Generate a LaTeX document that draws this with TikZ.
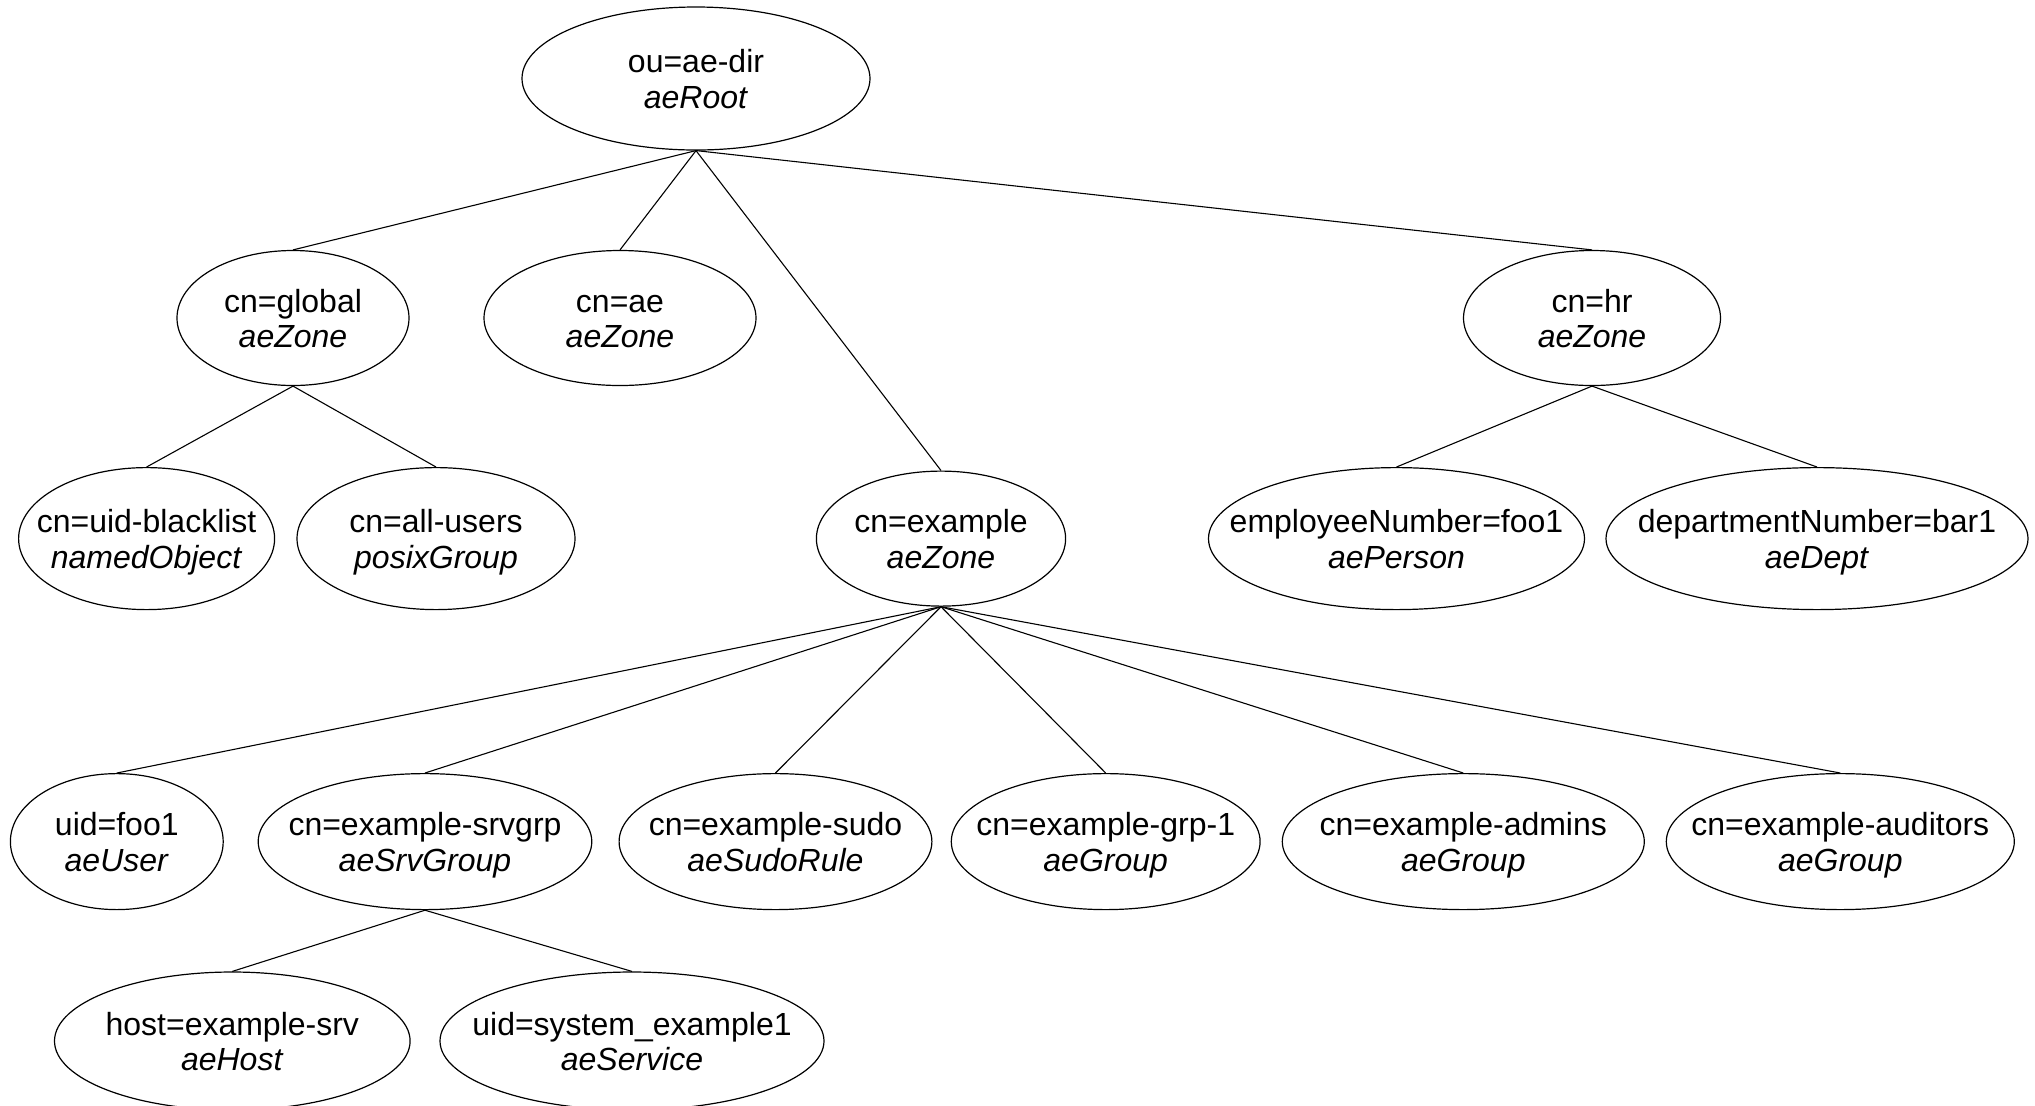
\documentclass[tikz,border=0pt]{standalone}
\usepackage{fontspec}
\setmainfont{Liberation Sans}
\usetikzlibrary{shapes.geometric}
\newcommand\entity[7]{%
  \node[entbox, minimum width=#4pt, minimum height=#5pt] (#1) at (#2,#3) {};
  \node[lbl] (#1-t) at (#1.center) {\strut#6\\\strut\textit{#7}};}
\begin{document}
\begin{tikzpicture}[x=0.5pt,y=-0.5pt,
  entbox/.style={draw, ellipse, inner sep=0pt, line width=0.6pt},
  lbl/.style={font=\fontsize{16}{17.75}\selectfont, align=center, inner sep=0pt, yshift=-2.5pt},
  edge/.style={line width=0.55pt}]
\useasboundingbox (0,0) rectangle (2035,1105);
\entity{root}{696}{78.5}{174}{71.5}{ou=ae-dir}{aeRoot}
\entity{global}{293}{318}{116}{67.5}{cn=global}{aeZone}
\entity{ae}{620}{318}{136}{67.5}{cn=ae}{aeZone}
\entity{hr}{1592}{318}{128.5}{67.5}{cn=hr}{aeZone}
\entity{blacklist}{146.6}{538.6}{128}{71}{cn=uid-blacklist}{namedObject}
\entity{allusers}{436}{538.6}{139}{71}{cn=all-users}{posixGroup}
\entity{example}{941}{538.6}{124.6}{67.5}{cn=example}{aeZone}
\entity{employee}{1396.5}{538.6}{188}{71}{employeeNumber=foo1}{aePerson}
\entity{dept}{1817}{538.6}{211}{71}{departmentNumber=bar1}{aeDept}
\entity{foo}{116.8}{841.6}{106.4}{68}{uid=foo1}{aeUser}
\entity{srvgrp}{425}{841.6}{166.8}{68}{cn=example-srvgrp}{aeSrvGroup}
\entity{sudo}{775.5}{841.6}{156.4}{68}{cn=example-sudo}{aeSudoRule}
\entity{grp}{1105.7}{841.6}{154.4}{68}{cn=example-grp-1}{aeGroup}
\entity{admins}{1463.3}{841.6}{181}{68}{cn=example-admins}{aeGroup}
\entity{auditors}{1840.3}{841.6}{174}{68}{cn=example-auditors}{aeGroup}
\entity{host}{232.3}{1041}{177.8}{69}{host=example-srv}{aeHost}
\entity{svc}{632}{1041}{192}{69}{uid=system\_example1}{aeService}
\foreach \p/\c in {root/global, root/ae, root/example, root/hr,
  global/blacklist, global/allusers, hr/employee, hr/dept,
  example/foo, example/srvgrp, example/sudo, example/grp, example/admins, example/auditors,
  srvgrp/host, srvgrp/svc}
  \draw[edge] (\p.south) -- (\c.north);
\end{tikzpicture}
\end{document}
